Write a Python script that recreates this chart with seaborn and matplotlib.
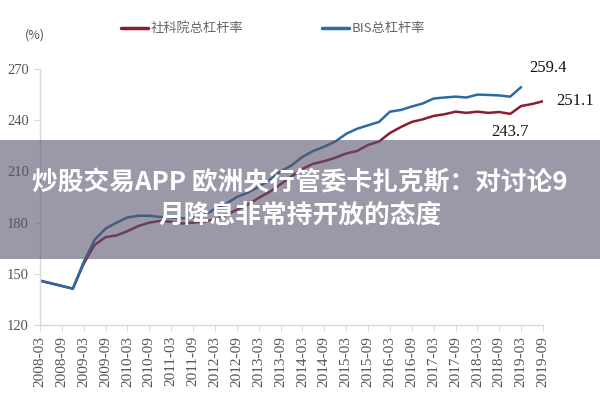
import numpy as np
import pandas as pd
import matplotlib
matplotlib.use("Agg")
import matplotlib.pyplot as plt
import seaborn as sns
from matplotlib.patches import Rectangle
from matplotlib.lines import Line2D

# ---------------- data ----------------
quarters = ["2008-03", "2008-06", "2008-09", "2008-12",
            "2009-03", "2009-06", "2009-09", "2009-12",
            "2010-03", "2010-06", "2010-09", "2010-12",
            "2011-03", "2011-06", "2011-09", "2011-12",
            "2012-03", "2012-06", "2012-09", "2012-12",
            "2013-03", "2013-06", "2013-09", "2013-12",
            "2014-03", "2014-06", "2014-09", "2014-12",
            "2015-03", "2015-06", "2015-09", "2015-12",
            "2016-03", "2016-06", "2016-09", "2016-12",
            "2017-03", "2017-06", "2017-09", "2017-12",
            "2018-03", "2018-06", "2018-09", "2018-12",
            "2019-03", "2019-06", "2019-09"]

cass_values = [146.0, None, None, 141.3,
               156.0, 167.0, 171.5, 172.5,
               175.0, 178.0, 180.0, 181.0,
               180.5, 179.5, 180.0, 180.5,
               182.0, 184.5, 187.5, 190.5,
               194.5, 198.0, 202.5, 207.0,
               211.5, 214.5, 216.0, 218.0,
               220.5, 222.0, 225.5, 227.5,
               232.5, 236.0, 239.0, 240.5,
               242.5, 243.5, 245.0, 244.3,
               245.0, 244.3, 244.8, 243.7,
               248.3, 249.5, 251.1]

bis_values = [146.0, None, None, 141.3,
              157.0, 170.0, 176.5, 180.0,
              183.0, 184.0, 184.0, 183.3,
              183.0, 182.5, 183.0, 184.5,
              188.0, 191.0, 195.0, 197.5,
              201.0, 205.0, 210.0, 213.5,
              218.5, 222.0, 224.5, 227.5,
              232.0, 235.0, 237.0, 239.0,
              245.0, 246.0, 248.0, 249.8,
              252.7, 253.3, 253.8, 253.3,
              255.0, 254.8, 254.5, 253.8,
              259.4, None, None]

series_names = ["社科院总杠杆率", "BIS总杠杆率"]
tick_labels = ["2008-03", "2008-09", "2009-03", "2009-09", "2010-03", "2010-09",
               "2011-03", "2011-09", "2012-03", "2012-09", "2013-03", "2013-09",
               "2014-03", "2014-09", "2015-03", "2015-09", "2016-03", "2016-09",
               "2017-03", "2017-09", "2018-03", "2018-09", "2019-03", "2019-09"]
y_ticks = [120, 150, 180, 210, 240, 270]
annotations = [("259.4", "2019-03", 259.4), ("251.1", "2019-09", 251.1), ("243.7", "2018-12", 243.7)]
headline = ["炒股交易APP 欧洲央行管委卡扎克斯：对讨论9", "月降息非常持开放的态度"]


def month_index(label):
    y, m = label.split("-")
    return (int(y) - 2008) * 12 + int(m) - 3


rows = []
for name, vals in zip(series_names, [cass_values, bis_values]):
    for q, v in zip(quarters, vals):
        if v is not None:
            rows.append({"month": month_index(q), "value": v, "series": name})
df = pd.DataFrame(rows)

# ---------------- style ----------------
sns.set_theme(style="white")
plt.rcParams["font.family"] = ["Liberation Serif", "Noto Sans CJK SC", "DejaVu Sans"]

fig = plt.figure(figsize=(6, 4), dpi=100)
ax = fig.add_axes([0.0667, 0.1875, 0.8383, 0.64])

palette = {"社科院总杠杆率": "#8c1c32", "BIS总杠杆率": "#2d6aa3"}
sns.lineplot(data=df, x="month", y="value", hue="series", hue_order=series_names,
             palette=palette, linewidth=1.8, estimator=None, sort=False, ax=ax,
             legend=False)

ax.set_xlim(0, month_index("2019-09"))
ax.set_ylim(120, 270)
ax.set_xticks([month_index(t) for t in tick_labels])
ax.set_xticklabels(tick_labels, rotation=90, fontsize=11, color="#555555",
                   family="Liberation Serif")
ax.set_yticks(y_ticks)
ax.set_yticklabels([str(v) for v in y_ticks], fontsize=10.5, color="#555555",
                   family="Liberation Serif")
ax.set_xlabel("")
ax.set_ylabel("")
for side in ["top", "right"]:
    ax.spines[side].set_visible(False)
for side in ["left", "bottom"]:
    ax.spines[side].set_color("#d9d9d9")
    ax.spines[side].set_linewidth(1.0)
ax.tick_params(axis="both", which="both", length=4, width=0.8, color="#d9d9d9",
               direction="out", pad=4)
ax.tick_params(axis="x", bottom=True)
ax.tick_params(axis="y", left=True)

# annotations (offsets in points)
offsets = {"259.4": (19, 14), "251.1": (23, 0), "243.7": (0, -13)}
for txt, q, v in annotations:
    dx, dy = offsets[txt]
    ax.annotate(txt, xy=(month_index(q), v), xytext=(dx, dy), textcoords="offset points",
                fontsize=12, color="#111111", ha="center", va="center",
                family="Liberation Serif", annotation_clip=False)

# legend
handles = [Line2D([0], [0], color=palette[n], lw=2.5) for n in series_names]
leg = fig.legend(handles, series_names, loc="center", bbox_to_anchor=(0.455, 0.928),
                 ncol=2, frameon=False, handlelength=2.0, handletextpad=0.2,
                 columnspacing=6.0, prop={"family": ["Noto Sans CJK SC"], "size": 9.5})
for t in leg.get_texts():
    t.set_color("#666666")

fig.text(0.058, 0.912, "(%)", fontsize=9, color="#555555", ha="center", va="center",
         family=["Noto Sans CJK SC"])

# headline banner overlay
fig.patches.append(Rectangle((0, 0.3525), 1, 0.2975, transform=fig.transFigure,
                             facecolor=(88 / 255, 84 / 255, 110 / 255), alpha=0.6,
                             edgecolor="none", zorder=5))
fig.text(0.5, 0.543, headline[0], fontsize=18.5, fontweight="bold", color="white",
         ha="center", va="center", family=["Noto Sans CJK SC"], zorder=6)
fig.text(0.5, 0.462, headline[1], fontsize=18.5, fontweight="bold", color="white",
         ha="center", va="center", family=["Noto Sans CJK SC"], zorder=6)

fig.savefig("out.png", dpi=100)
